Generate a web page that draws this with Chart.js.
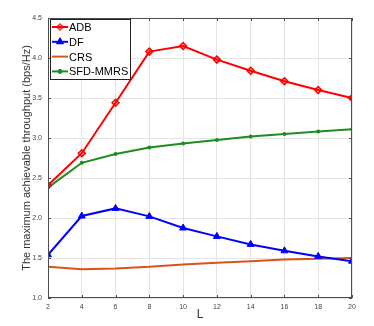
<!DOCTYPE html>
<html>
<head>
<meta charset="utf-8">
<script src="https://cdn.jsdelivr.net/npm/chart.js@4/dist/chart.umd.min.js"></script>
<style>
  html, body { margin: 0; padding: 0; background: #fff; }
  #wrap { width: 374px; height: 326px; }
</style>
</head>
<body>
<div id="wrap"><canvas id="chart" width="374" height="326"></canvas></div>
<script>
// data
const L = [2, 4, 6, 8, 10, 12, 14, 16, 18, 20];
const adb = [2.41, 2.81, 3.44, 4.08, 4.15, 3.98, 3.84, 3.71, 3.60, 3.50];
const df = [1.54, 2.025, 2.12, 2.02, 1.875, 1.77, 1.67, 1.59, 1.52, 1.46];
const crs = [1.39, 1.36, 1.37, 1.39, 1.42, 1.44, 1.46, 1.48, 1.49, 1.50];
const sfd = [2.38, 2.69, 2.80, 2.88, 2.93, 2.975, 3.02, 3.05, 3.08, 3.11];
const names = ['ADB', 'DF', 'CRS', 'SFD-MMRS'];

const pts = ys => L.map((x, i) => ({ x: x, y: ys[i] }));

// box around the axes + legend in the top-left corner (matlab look)
const matlabBox = {
    id: 'matlabBox',
    afterDraw(chart) {
        const { ctx, chartArea: a } = chart;
        ctx.save();
        ctx.strokeStyle = '#4d4d4d';
        ctx.lineWidth = 1;
        ctx.strokeRect(a.left + 0.5, a.top + 0.5, a.right - a.left - 1, a.bottom - a.top - 1);

        // small inward ticks
        const xs = chart.scales.x, ys = chart.scales.y;
        ctx.beginPath();
        xs.ticks.forEach(t => {
            const px = Math.round(xs.getPixelForValue(t.value)) + 0.5;
            ctx.moveTo(px, a.bottom); ctx.lineTo(px, a.bottom - 3);
            ctx.moveTo(px, a.top); ctx.lineTo(px, a.top + 3);
        });
        ys.ticks.forEach(t => {
            const py = Math.round(ys.getPixelForValue(t.value)) + 0.5;
            ctx.moveTo(a.left, py); ctx.lineTo(a.left + 3, py);
            ctx.moveTo(a.right, py); ctx.lineTo(a.right - 3, py);
        });
        ctx.stroke();

        // legend
        const bx = a.left + 2, by = a.top + 1, bw = 80, bh = 60;
        ctx.fillStyle = '#fff';
        ctx.fillRect(bx, by, bw, bh);
        ctx.strokeStyle = '#222';
        ctx.strokeRect(bx + 0.5, by + 0.5, bw, bh);
        ctx.font = '11px "Liberation Sans", Arial, sans-serif';
        ctx.textBaseline = 'middle';
        chart.data.datasets.forEach((ds, i) => {
            const yy = by + 8 + i * 14.8;
            ctx.strokeStyle = ds.borderColor;
            ctx.lineWidth = 2;
            ctx.beginPath();
            ctx.moveTo(bx + 2, yy); ctx.lineTo(bx + 18, yy);
            ctx.stroke();
            if (ds.pointRadius > 0) {
                ctx.fillStyle = ds.pointBackgroundColor;
                ctx.strokeStyle = ds.borderColor;
                ctx.lineWidth = 1;
                Chart.helpers.drawPoint(ctx, {
                    pointStyle: ds.pointStyle, radius: ds.pointRadius, borderWidth: 1
                }, bx + 10, yy);
                ctx.fill();
            }
            ctx.fillStyle = '#000';
            ctx.fillText(names[i], bx + 19, yy + 1);
        });
        ctx.restore();
    }
};

new Chart(document.getElementById('chart'), {
    type: 'line',
    data: {
        datasets: [
            { label: names[0], data: pts(adb), borderColor: '#ff0000', backgroundColor: '#ff0000',
              pointStyle: 'rectRot', pointRadius: 3.5, pointBackgroundColor: 'rgba(255,0,0,0.35)',
              pointBorderColor: '#ff0000', pointBorderWidth: 1.5, borderWidth: 2 },
            { label: names[1], data: pts(df), borderColor: '#0000ff', backgroundColor: '#0000ff',
              pointStyle: 'triangle', pointRadius: 4, pointBackgroundColor: '#0000ff',
              pointBorderColor: '#0000ff', pointBorderWidth: 1, borderWidth: 2 },
            { label: names[2], data: pts(crs), borderColor: '#d95319', backgroundColor: '#d95319',
              pointRadius: 0, borderWidth: 2, pointBackgroundColor: '#d95319' },
            { label: names[3], data: pts(sfd), borderColor: '#1e8c1e', backgroundColor: '#1e8c1e',
              pointStyle: 'circle', pointRadius: 2, pointBackgroundColor: '#1e8c1e',
              pointBorderColor: '#1e8c1e', pointBorderWidth: 0, borderWidth: 2 }
        ]
    },
    options: {
        responsive: false,
        animation: false,
        layout: { padding: { top: 18, right: 22, left: 16, bottom: 0 } },
        plugins: { legend: { display: false }, tooltip: { enabled: false } },
        scales: {
            x: {
                type: 'linear', min: 2, max: 20,
                ticks: { stepSize: 2, color: '#444', font: { size: 7, family: 'Liberation Sans' }, padding: 5, maxRotation: 0 },
                grid: { color: '#e4e4e4', drawTicks: false },
                border: { display: false },
                title: { display: true, text: 'L', color: '#333', font: { size: 12, family: 'Liberation Sans' }, padding: { top: 7 } },
                afterFit(s) { s.height = 28; }
            },
            y: {
                min: 1, max: 4.5,
                ticks: { stepSize: 0.5, color: '#444', font: { size: 7, family: 'Liberation Sans' }, padding: 6 },
                grid: { color: '#e4e4e4', drawTicks: false },
                border: { display: false },
                title: { display: true, text: 'The maximum achievable throughput (bps/Hz)', color: '#333',
                         font: { size: 11, family: 'Liberation Sans' }, padding: { bottom: 0 } },
                afterFit(s) { s.width = 32; }
            }
        }
    },
    plugins: [matlabBox]
});
</script>
</body>
</html>
